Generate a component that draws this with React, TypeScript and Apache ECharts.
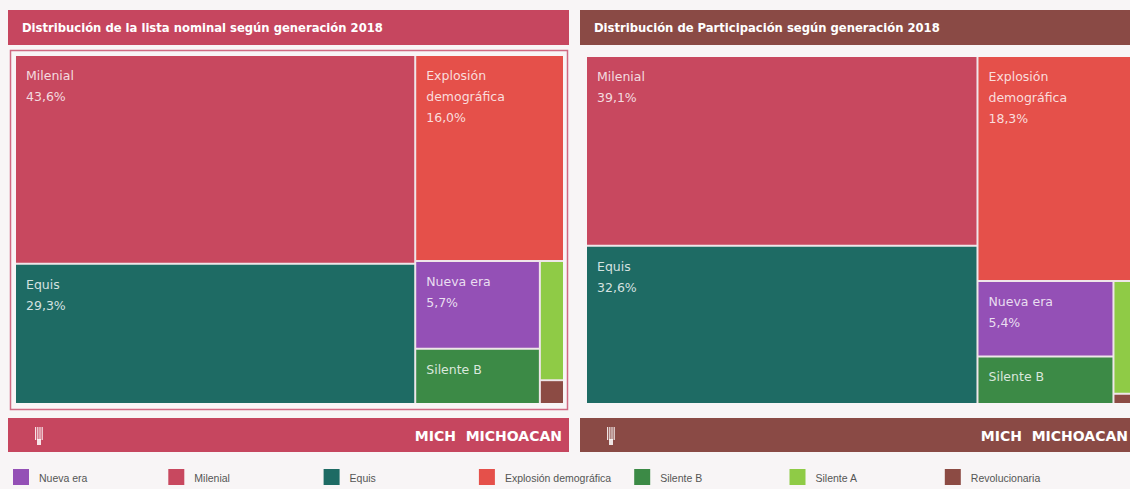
import React, { useEffect, useRef } from 'react';
import * as echarts from 'echarts';

// ---- data ----
const categories = ['Nueva era', 'Milenial', 'Equis', 'Explosión demográfica', 'Silente B', 'Silente A', 'Revolucionaria'];
const colors = ['#9450b6', '#c8485f', '#1e6b64', '#e5504a', '#3c8a46', '#8fcb46', '#8c4b44'];
const listaNominal = [5.7, 43.6, 29.3, 16.0, 3.6, 1.5, 0.3];
const participacion = [5.4, 39.1, 32.6, 18.3, 3.4, 1.1, 0.1];
const titles = ['Distribución de la lista nominal según generación 2018', 'Distribución de Participación según generación 2018'];
const footerText = 'MICH  MICHOACAN';
const panelColors = ['#c6465f', '#8a4a45'];

const FONT = 'Arial, "Liberation Sans", Helvetica, sans-serif';
const WIDE = '"DejaVu Sans", Verdana, sans-serif';

function fmt(v: number) {
  return v.toFixed(1).replace('.', ',') + '%';
}

function labelFor(name: string, value: number) {
  const shown = name === 'Explosión demográfica' ? 'Explosión\ndemográfica' : name;
  if (value >= 5) return shown + '\n' + fmt(value);
  if (value >= 3) return shown;
  return '';
}

function treemap(values: number[], box: { left: number; top: number; width: number; height: number }) {
  return {
    type: 'treemap',
    left: box.left,
    top: box.top,
    width: box.width,
    height: box.height,
    roam: false,
    nodeClick: false,
    breadcrumb: { show: false },
    squareRatio: 0.5 * (1 + Math.sqrt(5)),
    label: {
      show: true,
      position: 'insideTopLeft',
      padding: [9, 10],
      fontSize: 12.5,
      lineHeight: 21,
      color: 'rgba(255,255,255,0.82)',
      fontFamily: WIDE,
      formatter: (p: any) => labelFor(p.name, p.value),
    },
    upperLabel: { show: false },
    itemStyle: { borderWidth: 0, gapWidth: 2, borderColor: '#efe6e9' },
    levels: [{ itemStyle: { borderWidth: 0, gapWidth: 2, borderColor: '#efe6e9' } }],
    emphasis: { disabled: true },
    data: categories.map((name, i) => ({ name, value: values[i], itemStyle: { color: colors[i] } })),
  };
}

function buildGraphics() {
  const g: any[] = [];
  const panels = [
    { x: 8, w: 561 },
    { x: 580, w: 560 },
  ];
  panels.forEach((p, i) => {
    // header
    g.push({ type: 'rect', shape: { x: p.x, y: 10, width: p.w, height: 35 }, style: { fill: panelColors[i] } });
    g.push({
      type: 'text',
      x: p.x + 14,
      y: 28,
      style: { text: titles[i], fill: '#ffffff', fontSize: 11.6, fontWeight: 'bold', fontFamily: WIDE, verticalAlign: 'middle', align: 'left' },
    });
    // footer
    g.push({ type: 'rect', shape: { x: p.x, y: 418, width: p.w, height: 34 }, style: { fill: panelColors[i] } });
    const right = i === 0 ? p.x + p.w - 7 : 1128;
    g.push({
      type: 'text',
      x: right,
      y: 436,
      style: { text: footerText, fill: '#ffffff', fontSize: 14, fontWeight: 'bold', fontFamily: WIDE, verticalAlign: 'middle', align: 'right' },
    });
    // small logo
    const lx = p.x + 27;
    for (let k = 0; k < 4; k++) {
      g.push({ type: 'rect', shape: { x: lx + k * 2.2, y: 427, width: 1.2, height: 13 }, style: { fill: 'rgba(255,255,255,0.85)' } });
    }
    g.push({ type: 'rect', shape: { x: lx + 2, y: 439, width: 4, height: 6 }, style: { fill: 'rgba(255,255,255,0.85)' } });
  });
  // frame around left treemap
  g.push({
    type: 'rect',
    shape: { x: 10.5, y: 50.5, width: 557, height: 359 },
    style: { fill: 'none', stroke: '#cf6a82', lineWidth: 1.5 },
  });
  // legend
  categories.forEach((name, i) => {
    const x = 13 + i * 155.3;
    g.push({ type: 'rect', shape: { x, y: 469, width: 16, height: 16 }, style: { fill: colors[i] } });
    g.push({
      type: 'text',
      x: x + 26,
      y: 477.5,
      style: { text: name, fill: '#555555', fontSize: 10.5, fontFamily: '"Liberation Sans Narrow", "Arial Narrow", ' + FONT, verticalAlign: 'middle', align: 'left' },
    });
  });
  return g;
}

export default function App() {
  const ref = useRef<HTMLDivElement>(null);
  useEffect(() => {
    if (!ref.current) return;
    const chart = echarts.init(ref.current, undefined, { renderer: 'svg' });
    chart.setOption({
      animation: false,
      backgroundColor: '#f8f5f6',
      graphic: buildGraphics(),
      series: [
        treemap(listaNominal, { left: 16, top: 56, width: 547, height: 347 }),
        treemap(participacion, { left: 587, top: 57, width: 544, height: 346 }),
      ],
    });
    return () => chart.dispose();
  }, []);
  return <div ref={ref} style={{ position: 'fixed', left: 0, top: 0, width: 1130, height: 489 }} />;
}
